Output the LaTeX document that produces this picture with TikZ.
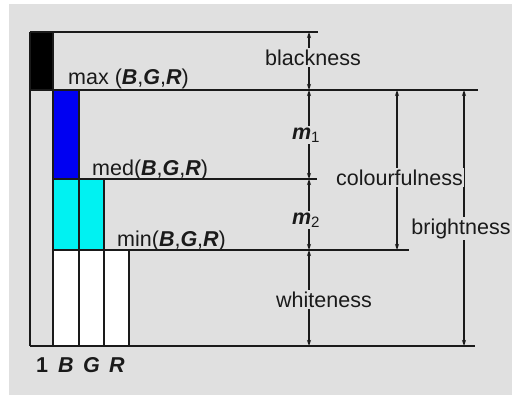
\documentclass[tikz,border=0pt]{standalone}
\usepackage{fontspec}
\setmainfont{Liberation Sans}
\usetikzlibrary{arrows.meta}
\definecolor{bg}{HTML}{E0E0E0}
\definecolor{ink}{HTML}{1A1A1A}
\definecolor{bblue}{HTML}{0000F2}
\definecolor{bcyan}{HTML}{00F2F2}
\newcommand{\bgr}{\textbf{\textit{B}},\textbf{\textit{G}},\textbf{\textit{R}}}
\begin{document}
\begin{tikzpicture}[x=1pt,y=-1pt,
  font=\fontsize{21.5}{26}\selectfont,
  rule/.style={line width=1.3pt, draw=ink},
  dim/.style={line width=1.2pt, draw=ink, {Stealth[length=6pt,width=4pt]}-{Stealth[length=6pt,width=4pt]}},
  dimlabel/.style={fill=bg, inner sep=1.5pt, text=ink},
  txt/.style={inner sep=0pt, text=ink}]
\useasboundingbox (0,0) rectangle (512,399);
\fill[white] (0,0) rectangle (512,399);
\fill[bg] (9,4) rectangle (512,395);
% colour bars
\fill[black] (30,32) rectangle (53,90);
\fill[bblue] (53,90) rectangle (79,179);
\fill[bcyan] (53,179) rectangle (104,250);
\fill[white] (53,250) rectangle (129,346);
% horizontal rules
\draw[rule] (30,32) -- (318,32);
\draw[rule] (30,90) -- (478,90);
\draw[rule] (53,179) -- (317,179);
\draw[rule] (53,250) -- (409,250);
\draw[rule] (30,346) -- (475,346);
% vertical rules
\draw[rule] (30,32) -- (30,346);
\draw[rule] (53,32) -- (53,346);
\draw[rule] (79,90) -- (79,346);
\draw[rule] (104,179) -- (104,346);
\draw[rule] (129,250) -- (129,346);
% bar labels
\node[txt, anchor=base west] (lmax) at (68,84) {max (\bgr)};
\node[txt, anchor=base west] (lmed) at (92,175) {med(\bgr)};
\node[txt, anchor=base west] (lmin) at (117,246) {min(\bgr)};
\node[txt, anchor=base] (c1) at (42,372) {\textbf{1}};
\node[txt, anchor=base] (cB) at (66,372) {\textbf{\textit{B}}};
\node[txt, anchor=base] (cG) at (91.5,372) {\textbf{\textit{G}}};
\node[txt, anchor=base] (cR) at (117,372) {\textbf{\textit{R}}};
% dimension end points
\coordinate (k1) at (309,32);
\coordinate (k2) at (309,90);
\coordinate (k3) at (309,179);
\coordinate (k4) at (309,250);
\coordinate (k5) at (309,346);
\coordinate (c1t) at (397,90);
\coordinate (c1b) at (397,250);
\coordinate (b1t) at (464,90);
\coordinate (b1b) at (464,346);
\draw[dim] (k1) -- (k2);
\draw[dim] (k2) -- (k3);
\draw[dim] (k3) -- (k4);
\draw[dim] (k4) -- (k5);
\draw[dim] (c1t) -- (c1b);
\draw[dim] (b1t) -- (b1b);
% dimension labels
\node[dimlabel, anchor=base] (black) at (313,65) {blackness};
\node[dimlabel, anchor=base] (m1) at (306,139) {\textbf{\textit{m}}\textsubscript{1}};
\node[dimlabel, anchor=base] (m2) at (306,224) {\textbf{\textit{m}}\textsubscript{2}};
\node[dimlabel, anchor=base] (white) at (324,307) {whiteness};
\node[dimlabel, anchor=base] (colour) at (399.5,185) {colourfulness};
\node[dimlabel, anchor=base] (bright) at (461,234) {brightness};
\end{tikzpicture}
\end{document}
